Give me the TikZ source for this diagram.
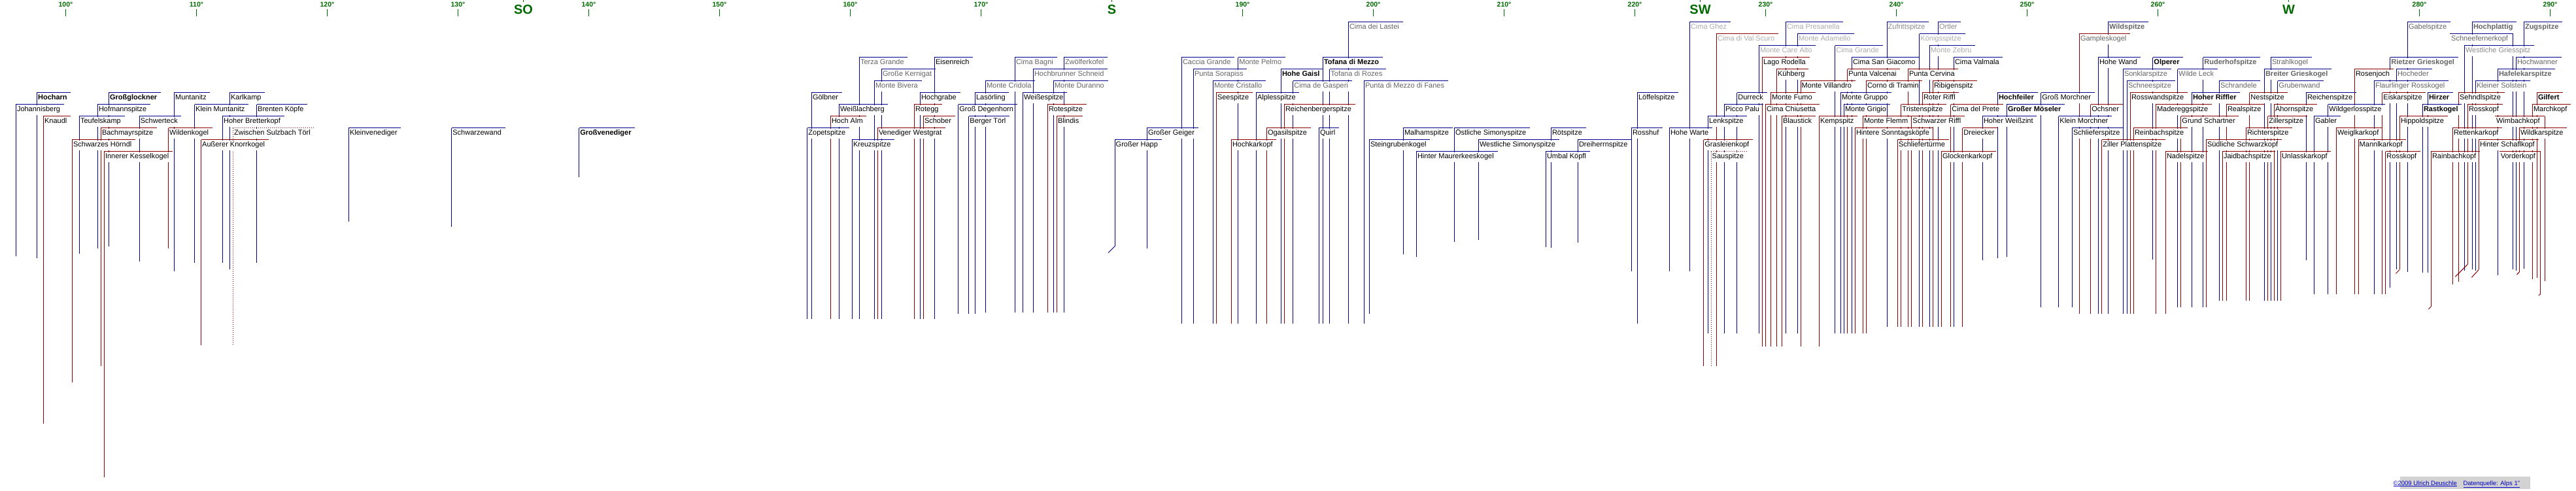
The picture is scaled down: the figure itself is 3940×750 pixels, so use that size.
\documentclass[tikz,border=0pt]{standalone}
\usepackage{fontspec}
\setmainfont{Liberation Sans}
\definecolor{pkblue}{RGB}{0,0,140}
\definecolor{pkred}{RGB}{140,0,0}
\definecolor{compass}{RGB}{0,105,0}
\definecolor{txtgA}{RGB}{100,100,100}
\definecolor{txtgB}{RGB}{140,140,140}
\definecolor{txtgC}{RGB}{172,172,172}
\definecolor{footgray}{RGB}{210,210,210}
\definecolor{footblue}{RGB}{0,0,200}

\pgfdeclarelayer{lines}
\pgfsetlayers{lines,main}

\newcounter{pk}
% \peak[label options]{line options}{x}{row}{bottom}{text}
\newcommand\peak[6][]{%
  \stepcounter{pk}%
  \pgfmathsetmacro\pky{33.7+18*#4}%
  \xdef\pkx{#3}\xdef\pkb{#5}%
  \begin{pgfonlayer}{lines}
    \draw[#2] (#3,\pky) -- (#3,#5);
  \end{pgfonlayer}
  \coordinate (bar\thepk) at (#3,\pky);
  \node[pk_label,#1] (pk\thepk) at (#3+0.5,\pky+10.5) {#6};
  \draw[#2] (bar\thepk) -- (pk\thepk.east |- bar\thepk) -- ++(4.5,0);
}
% same, label on the left of its line
\newcommand\peakr[6][]{%
  \stepcounter{pk}%
  \pgfmathsetmacro\pky{33.7+18*#4}%
  \xdef\pkx{#3}\xdef\pkb{#5}%
  \begin{pgfonlayer}{lines}
    \draw[#2] (#3,\pky) -- (#3,#5);
  \end{pgfonlayer}
  \coordinate (bar\thepk) at (#3,\pky);
  \node[pk_label,anchor=base east,#1] (pk\thepk) at (#3-6.5,\pky+10.5) {#6};
  \draw[#2] (bar\thepk) -- (pk\thepk.west |- bar\thepk) -- ++(-1,0);
}
% kink at the foot of the last line
\newcommand\tail[3]{%
  \begin{pgfonlayer}{lines}
    \draw[#1] (\pkx,\pkb) -- ++(#2,#3);
  \end{pgfonlayer}}
% degree tick
\newcommand\degtick[1]{%
  \pgfmathsetmacro\dx{100.5+(#1-100)*20}%
  \node[deg_label] (deg#1) at (\dx,6.6) {#1°};
  \draw[compass, line width=1pt] (\dx,14) -- (\dx,25.3);
}
% compass point
\newcommand\dirtick[2]{%
  \pgfmathsetmacro\dx{100.5+(#1-100)*20}%
  \node[dir_label] (dir#1) at (\dx,15) {#2};
  \draw[compass, line width=1pt] (\dx,0) -- (\dx,3);
}

\begin{document}
\begin{tikzpicture}[x=1pt, y=-1pt,
    pk_label/.style={anchor=base west, inner xsep=1pt, inner ysep=0pt,
        text height=9.5pt, text depth=5.3pt, fill=white, text=black,
        font=\fontsize{11}{13}\selectfont},
    txt_bold/.style={font=\fontsize{11}{13}\selectfont\bfseries},
    txt_g1/.style={text=txtgA},
    txt_g2/.style={text=txtgB},
    txt_g3/.style={text=txtgC},
    line_b/.style={pkblue, line width=1pt},
    line_r/.style={pkred, line width=1pt},
    deg_label/.style={text=compass, inner sep=0pt,
        font=\fontsize{10.5}{12}\selectfont\bfseries},
    dir_label/.style={text=compass, inner sep=0pt,
        font=\fontsize{20}{24}\selectfont\bfseries},
]
\useasboundingbox (0,0) rectangle (3940,750);

% --- Gradskala ---
\degtick{100} \degtick{110} \degtick{120} \degtick{130}
\degtick{140} \degtick{150} \degtick{160} \degtick{170}
\degtick{190} \degtick{200} \degtick{210} \degtick{220}
\degtick{230} \degtick{240} \degtick{250} \degtick{260}
\degtick{280} \degtick{290}
\dirtick{135}{SO} \dirtick{180}{S} \dirtick{225}{SW} \dirtick{270}{W}

% --- Glocknergruppe ---
\peak[txt_bold]{line_b}{56.4}{6}{395}{Hocharn}
\peak{line_b}{24.3}{7}{392}{Johannisberg}
\peak{line_r}{66.4}{8}{648}{Knaudl}
\peak[txt_bold]{line_b}{166.4}{6}{376.7}{Großglockner}
\peak{line_b}{149.3}{7}{380}{Hofmannspitze}
\peak{line_b}{121.4}{8}{388}{Teufelskamp}
\peak{line_r}{154.3}{9}{560}{Bachmayrspitze}
\peak{line_r}{110.4}{10}{585}{Schwarzes Hörndl}
\peak{line_r}{159.3}{11}{730}{Innerer Kesselkogel}
\peak{line_b}{266.4}{6}{415}{Muntanitz}
\peak{line_b}{213.2}{8}{400}{Schwerteck}
\peak{line_r}{257.5}{9}{380}{Wildenkogel}
\peak{line_b}{297.5}{7}{402}{Klein Muntanitz}
\peak{line_b}{351.4}{6}{412}{Karlkamp}
\peak{line_b}{340.4}{8}{402}{Hoher Bretterkopf}
\peak{line_b}{392.5}{7}{402}{Brenten Köpfe}
\peak{line_r,dotted}{356.4}{9}{528}{Zwischen Sulzbach Törl}
\peak{line_r}{307.5}{10}{528}{Außerer Knorrkogel}

% --- Venedigergruppe ---
\peak{line_b}{533.3}{9}{339.3}{Kleinvenediger}
\peak{line_b}{690.7}{9}{347}{Schwarzewand}
\peak[txt_bold]{line_b}{885.6}{9}{270.7}{Großvenediger}

% --- Lasörling, Karnische Alpen ---
\peak[txt_g1]{line_b}{1314.3}{3}{488}{Terza Grande}
\peak{line_b}{1429.3}{3}{488}{Eisenreich}
\peak[txt_g1]{line_b}{1348.3}{4}{488}{Große Kernigat}
\peak[txt_g1]{line_b}{1337.3}{5}{488}{Monte Bivera}
\peak{line_b}{1241.3}{6}{488}{Gölbner}
\peak{line_b}{1407.3}{6}{488}{Hochgrabe}
\peak{line_b}{1491.3}{6}{480}{Lasörling}
\peak{line_b}{1283.3}{7}{488}{Weißlachberg}
\peak{line_r}{1398.3}{7}{488}{Rotegg}
\peak{line_b}{1465.7}{7}{480}{Groß Degenhorn}
\peak{line_r}{1270.3}{8}{488}{Hoch Alm}
\peak{line_r}{1412.3}{8}{488}{Schober}
\peak{line_b}{1481.7}{8}{480}{Berger Törl}
\peak{line_b}{1234.7}{9}{488}{Zopetspitze}
\peak{line_r}{1342.3}{9}{488}{Venediger Westgrat}
\peak{line_b}{1303.3}{10}{488}{Kreuzspitze}
\peak[txt_g1]{line_b}{1552.3}{3}{478}{Cima Bagni}
\peak[txt_g1]{line_b}{1627.3}{3}{478}{Zwölferkofel}
\peak[txt_g1]{line_b}{1580.3}{4}{478}{Hochbrunner Schneid}
\peak[txt_g1]{line_b}{1507.3}{5}{478}{Monte Cridola}
\peak[txt_g1]{line_b}{1611.3}{5}{478}{Monte Duranno}
\peak{line_b}{1564.3}{6}{478}{Weißespitze}
\peak{line_r}{1602.3}{7}{478}{Rotespitze}
\peak{line_r}{1616.3}{8}{478}{Blindis}
\peak{line_b}{1754.3}{9}{380}{Großer Geiger}
\peak{line_b}{1705}{10}{376.7}{Großer Happ}
\tail{line_b}{-10}{10}

% --- Dolomiten ---
\peak[txt_g1]{line_b}{1807.3}{3}{495}{Caccia Grande}
\peak[txt_g1]{line_b}{1893.7}{3}{495}{Monte Pelmo}
\peak[txt_bold]{line_b}{2023.3}{3}{495}{Tofana di Mezzo}
\peak[txt_g1]{line_b}{1825.3}{4}{495}{Punta Sorapiss}
\peak[txt_bold]{line_b}{1959.3}{4}{495}{Hohe Gaisl}
\peak[txt_g1]{line_b}{2033.7}{4}{495}{Tofana di Rozes}
\peak[txt_g1]{line_b}{1855.3}{5}{495}{Monte Cristallo}
\peak[txt_g1]{line_b}{1977.7}{5}{495}{Cima de Gasperi}
\peak{line_r}{1860.3}{6}{495}{Seespitze}
\peak{line_b}{1921.3}{6}{495}{Alplesspitze}
\peak{line_r}{1964.3}{7}{495}{Reichenbergerspitze}
\peak{line_r}{1937.3}{9}{495}{Ogasilspitze}
\peak{line_b}{2017.3}{9}{495}{Quirl}
\peak{line_r}{1883.3}{10}{495}{Hochkarkopf}
\peak[txt_g1]{line_b}{2062.3}{0}{495}{Cima dei Lastei}
\peak[txt_g1]{line_b}{2086.3}{5}{495}{Punta di Mezzo di Fanes}

% --- Rieserferner, Venediger Süd ---
\peak{line_b}{2146.3}{9}{389.3}{Malhamspitze}
\peak{line_b}{2224.3}{9}{370}{Östliche Simonyspitze}
\peak{line_b}{2094.3}{10}{480}{Steingrubenkogel}
\peak{line_b}{2261.3}{10}{366.7}{Westliche Simonyspitze}
\peak{line_b}{2166.3}{11}{393.3}{Hinter Maurerkeeskogel}
\peak{line_b}{2372.3}{9}{379.3}{Rötspitze}
\peak{line_b}{2413.3}{10}{370.7}{Dreiherrnspitze}
\peak{line_b}{2364.3}{11}{377.7}{Umbal Köpfl}
\peak{line_b}{2504.3}{6}{495}{Löffelspitze}
\peak{line_b}{2495.3}{9}{415}{Rosshuf}
\peak{line_b}{2553.3}{9}{415}{Hohe Warte}

% --- Adamello, Ortler, Sarntaler ---
\peak[txt_g3]{line_b}{2584.3}{0}{415}{Cima Ghez}
\peak[txt_g3]{line_b}{2731.3}{0}{510}{Cima Presanella}
\peak[txt_g3]{line_r}{2625.3}{1}{560}{Cima di Val Scuro}
\peak[txt_g3]{line_b}{2749.3}{1}{510}{Monte Adamello}
\peak[txt_g3]{line_b}{2690.3}{2}{510}{Monte Care Alto}
\peak[txt_g3]{line_b}{2806.7}{2}{510}{Cima Grande}
\peak{line_r}{2695.3}{3}{530}{Lago Rodella}
\peak{line_b}{2832.3}{3}{510}{Cima San Giacomo}
\peak{line_r}{2717.3}{4}{530}{Kühberg}
\peak{line_r}{2825.7}{4}{510}{Punta Valcenai}
\peak{line_r}{2754}{5}{530}{Monte Villandro}
\peak{line_r}{2854.3}{5}{510}{Corno di Tramin}
\peak{line_b}{2656.7}{6}{510}{Durreck}
\peak{line_r}{2708.3}{6}{530}{Monte Fumo}
\peak{line_b}{2815.3}{6}{510}{Monte Gruppo}
\peak{line_b}{2637.3}{7}{510}{Picco Palu}
\peak{line_r}{2700.3}{7}{530}{Cima Chiusetta}
\peak{line_b}{2820.3}{7}{510}{Monte Grigio}
\peak{line_b}{2612.3}{8}{510}{Lenkspitze}
\peak{line_r}{2725.3}{8}{530}{Blaustick}
\peak{line_r}{2782.3}{8}{530}{Kempspitz}
\peak{line_r}{2849.3}{8}{510}{Monte Flemm}
\peak{line_r}{2837.3}{9}{510}{Hintere Sonntagsköpfe}
\peak{line_r}{2605.7}{10}{560}{Grasleienkopf}
\peak{line_r,dotted}{2617}{11}{560}{Sauspitze}
\peak[txt_g2]{line_b}{2886}{0}{500}{Zufrittspitze}
\peak[txt_g2]{line_b}{2964.3}{0}{500}{Ortler}
\peak[txt_g3]{line_b}{2935.7}{1}{500}{Königsspitze}
\peak[txt_g3]{line_b}{2951.3}{2}{500}{Monte Zebru}
\peak{line_b}{2988.3}{3}{500}{Cima Valmala}
\peak{line_r}{2918.3}{4}{500}{Punta Cervina}
\peak{line_r}{2956.3}{5}{500}{Ribigenspitz}
\peak{line_r}{2940.3}{6}{500}{Roter Riffl}
\peak{line_r}{2907.7}{7}{500}{Tristenspitze}
\peak{line_r}{2983.7}{7}{500}{Cima del Prete}
\peak{line_r}{2923.7}{8}{500}{Schwarzer Riffl}
\peak{line_r}{3001.7}{9}{500}{Dreiecker}
\peak{line_r}{2902.3}{10}{500}{Schliefertürme}
\peak{line_r}{2969.3}{11}{500}{Glockenkarkopf}

% --- Zillertaler, Stubaier, Ötztaler ---
\peak[txt_bold]{line_b}{3055.3}{6}{395}{Hochfeiler}
\peak[txt_bold]{line_b}{3069.3}{7}{393}{Großer Möseler}
\peak{line_b}{3032.3}{8}{398}{Hoher Weißzint}
\peak[txt_bold,txt_g1]{line_b}{3224.3}{0}{480}{Wildspitze}
\peak[txt_g1]{line_r}{3180.3}{1}{480}{Gampleskogel}
\peak{line_b}{3209.3}{3}{480}{Hohe Wand}
\peak[txt_bold]{line_b}{3292.7}{3}{397}{Olperer}
\peak[txt_bold,txt_g1]{line_b}{3369.7}{3}{470}{Ruderhofspitze}
\peak[txt_g1]{line_b}{3247.3}{4}{480}{Sonklarspitze}
\peak[txt_g1]{line_b}{3330.7}{4}{470}{Wilde Leck}
\peak[txt_g1]{line_b}{3253.3}{5}{480}{Schneespitze}
\peak{line_b}{3121.7}{6}{470}{Groß Morchner}
\peak{line_r}{3258.3}{6}{480}{Rosswandspitze}
\peak[txt_bold]{line_b}{3352.3}{6}{470}{Hoher Riffler}
\peak{line_r}{3197.7}{7}{480}{Ochsner}
\peak{line_r}{3297.3}{7}{480}{Madereggspitze}
\peak{line_b}{3148.7}{8}{470}{Klein Morchner}
\peak{line_r}{3335.7}{8}{470}{Grund Schartner}
\peak{line_b}{3169.3}{9}{470}{Schlieferspitze}
\peak{line_r}{3263.3}{9}{480}{Reinbachspitze}
\peak{line_r}{3214.7}{10}{480}{Ziller Plattenspitze}
\peak{line_r}{3374.3}{10}{470}{Südliche Schwarzkopf}
\peak{line_r}{3312.3}{11}{480}{Nadelspitze}
\peak[txt_g1]{line_b}{3473.3}{3}{460}{Strahlkogel}
\peak[txt_bold,txt_g1]{line_b}{3655.7}{3}{440}{Rietzer Grieskogel}
\peak[txt_bold,txt_g1]{line_b}{3463.3}{4}{460}{Breiter Grieskogel}
\peak{line_r}{3601.3}{4}{450}{Rosenjoch}
\peak[txt_g1]{line_b}{3394.3}{5}{460}{Schrandele}
\peak[txt_g1]{line_b}{3483.7}{5}{460}{Grubenwand}
\peak[txt_g1]{line_b}{3631.3}{5}{450}{Flaurlinger Rosskogel}
\peak{line_r}{3440.7}{6}{460}{Nestspitze}
\peak{line_b}{3527.3}{6}{397.7}{Reichenspitze}
\peak{line_r}{3643.7}{6}{450}{Eiskarspitze}
\peak{line_r}{3405.3}{7}{460}{Realspitze}
\peak{line_r}{3478.3}{7}{460}{Ahornspitze}
\peak{line_b}{3560.7}{7}{450}{Wildgerlosspitze}
\peak{line_r}{3468.7}{8}{460}{Zillerspitze}
\peak{line_b}{3539.3}{8}{450}{Gabler}
\peak{line_r}{3435.3}{9}{460}{Richterspitze}
\peak{line_r}{3573.3}{9}{450}{Weiglkarkopf}
\peak{line_r}{3607}{10}{450}{Mannlkarkopf}
\peak{line_r}{3399.3}{11}{460}{Jaidbachspitze}
\peak{line_r}{3488.3}{11}{460}{Unlasskarkopf}
\peak{line_r}{3648.7}{11}{450}{Rosskopf}

% --- Karwendel, Wetterstein, Tuxer ---
\peak[txt_g1]{line_b}{3682.3}{0}{416.3}{Gabelspitze}
\peak[txt_bold,txt_g1]{line_b}{3781.3}{0}{412.4}{Hochplattig}
\peak[txt_bold,txt_g1]{line_b}{3860.3}{0}{410.5}{Zugspitze}
\peakr[txt_g1]{line_b}{3843.7}{1}{411.5}{Schneefernerkopf}
\peak[txt_g2]{line_b}{3769.3}{2}{413.9}{Westliche Griesspitz}
\peak[txt_g1]{line_b}{3848.3}{3}{413.9}{Hochwanner}
\peak[txt_g1]{line_b}{3665.3}{4}{411.5}{Hocheder}
\peak[txt_bold,txt_g1]{line_b}{3820.3}{4}{421}{Hafelekarspitze}
\peak[txt_g1]{line_b}{3786.3}{5}{413.9}{Kleiner Solstein}
\peak[txt_bold]{line_b}{3713.3}{6}{417.2}{Hirzer}
\peak{line_r}{3760.3}{6}{430.6}{Sehndlspitze}
\peak[txt_bold]{line_r}{3880.3}{6}{425}{Gilfert}
\peak[txt_bold]{line_b}{3705.3}{7}{417.2}{Rastkogel}
\peak{line_r}{3774.3}{7}{404.3}{Rosskopf}
\tail{line_r}{-19}{19}
\peak{line_r}{3873.3}{7}{427}{Marchkopf}
\peak{line_r}{3670.3}{8}{412.4}{Hippoldspitze}
\tail{line_r}{-6}{6}
\peakr{line_r}{3892.3}{8}{429.7}{Wimbachkopf}
\peak{line_r}{3751.3}{9}{435.4}{Rettenkarkopf}
\peak{line_r}{3853.3}{9}{416}{Wildkarspitze}
\tail{line_r}{-4}{4}
\peak{line_r}{3791.3}{10}{412.4}{Hinter Schaflkopf}
\tail{line_r}{-11}{12}
\peak{line_r}{3718.3}{11}{468.9}{Rainbachkopf}
\tail{line_r}{-4}{4}
\peakr{line_r}{3885.7}{11}{449.8}{Vorderkopf}
\tail{line_r}{-3}{2}

% --- Fußzeile ---
\fill[footgray] (3671,729) rectangle (3870,748);
\node[anchor=base east, inner sep=0pt, text=footblue,
      font=\fontsize{9.5}{11}\selectfont] (copy) at (3758,742)
      {\underline{©2009 Ulrich Deuschle}};
\node[anchor=base west, inner sep=0pt, text=footblue,
      font=\fontsize{9.5}{11}\selectfont] (source) at (3767.3,742)
      {\underline{Datenquelle: Alps 1"}};

\end{tikzpicture}
\end{document}
